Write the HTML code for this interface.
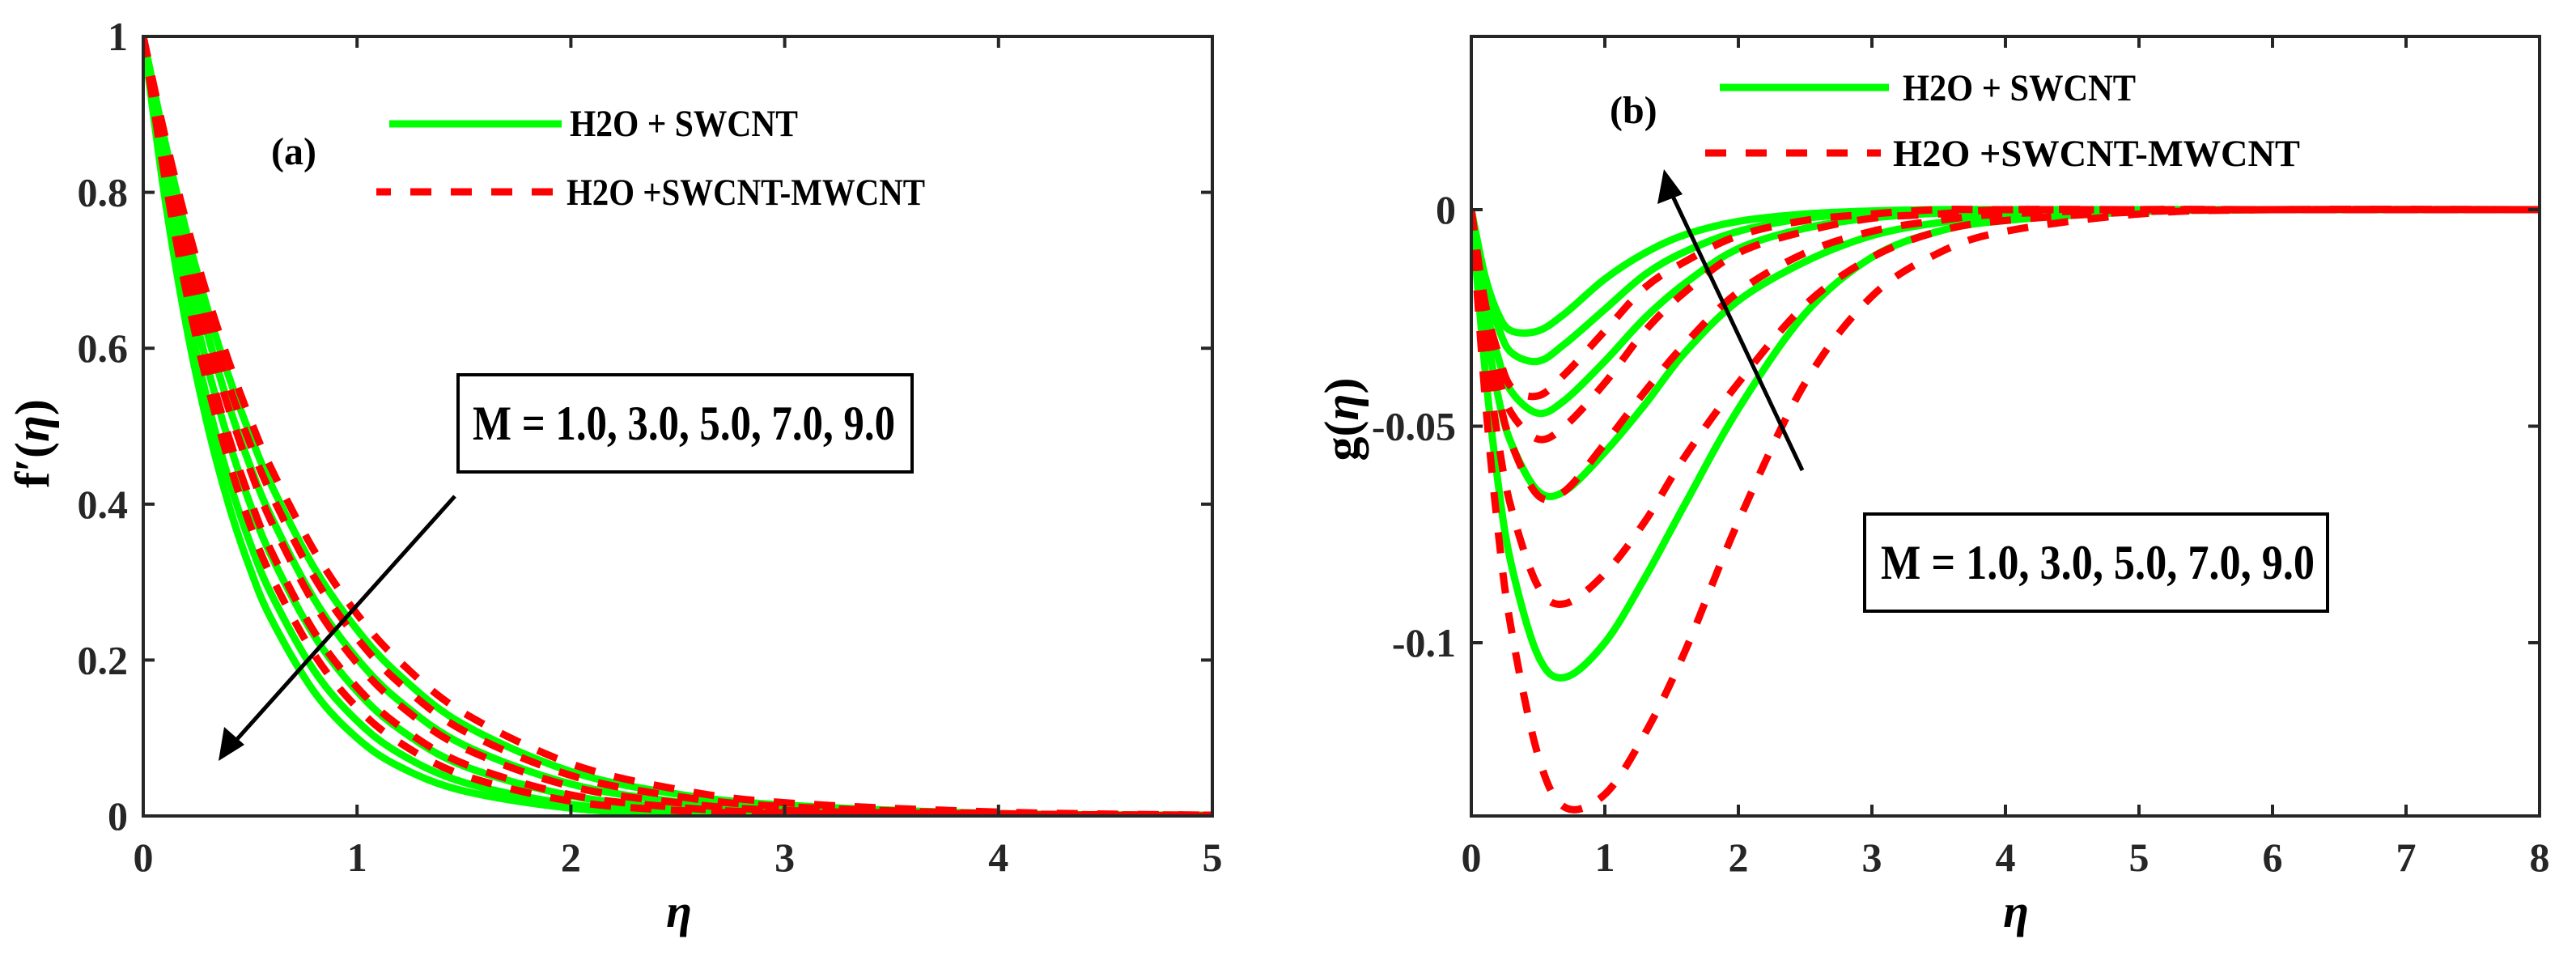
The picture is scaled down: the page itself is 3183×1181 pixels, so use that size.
<!DOCTYPE html>
<html><head><meta charset="utf-8"><style>
html,body{margin:0;padding:0;background:#fff}
svg{display:block}
text{font-family:"Liberation Serif",serif;font-weight:bold;fill:#000}
.tk{fill:#262626;font-size:50px}
</style></head><body>
<svg id="fig" width="3183" height="1181" viewBox="0 0 3183 1181" xmlns="http://www.w3.org/2000/svg">
<defs>
<clipPath id="clipA"><rect x="177" y="45" width="1321" height="963"/></clipPath>
<clipPath id="clipB"><rect x="1818" y="45" width="1320" height="963"/></clipPath>
</defs>
<g id="panelA"></g>
<g id="panelB"></g>
<g id="annot" style="font-family:'Liberation Serif',serif;font-weight:bold">
<!-- panel a -->
<text x="335" y="203" font-size="48">(a)</text>
<line x1="481" y1="153" x2="694" y2="153" stroke="#00ff00" stroke-width="9"/>
<text x="704" y="168" font-size="47" textLength="282" lengthAdjust="spacingAndGlyphs">H2O + SWCNT</text>
<line x1="465" y1="237" x2="690" y2="237" stroke="#ff0000" stroke-width="9" stroke-dasharray="26 24" stroke-dashoffset="8"/>
<text x="700" y="253" font-size="47" textLength="443" lengthAdjust="spacingAndGlyphs">H2O +SWCNT-MWCNT</text>
<rect x="566" y="463" width="561" height="120" fill="#fff" stroke="#000" stroke-width="4"/>
<text x="584" y="543" font-size="60" textLength="522" lengthAdjust="spacingAndGlyphs">M = 1.0, 3.0, 5.0, 7.0, 9.0</text>
<line x1="562" y1="613" x2="285" y2="922" stroke="#000" stroke-width="5"/>
<polygon points="270,940 277,898 302,920" fill="#000"/>
<text transform="translate(60,548) rotate(-90)" text-anchor="middle" font-size="60">f′(<tspan font-style="italic">η</tspan>)</text>
<text x="839" y="1145" text-anchor="middle" font-size="58" font-style="italic">η</text>
<!-- panel b -->
<text x="1989" y="152" font-size="48">(b)</text>
<line x1="2125" y1="108" x2="2334" y2="108" stroke="#00ff00" stroke-width="9"/>
<text x="2351" y="124" font-size="47" textLength="288" lengthAdjust="spacingAndGlyphs">H2O + SWCNT</text>
<line x1="2107" y1="189" x2="2324" y2="189" stroke="#ff0000" stroke-width="9" stroke-dasharray="26 24"/>
<text x="2339" y="205" font-size="47" textLength="503" lengthAdjust="spacingAndGlyphs">H2O +SWCNT-MWCNT</text>
<rect x="2304" y="635" width="572" height="120" fill="#fff" stroke="#000" stroke-width="4"/>
<text x="2324" y="715" font-size="60" textLength="536" lengthAdjust="spacingAndGlyphs">M = 1.0, 3.0, 5.0, 7.0, 9.0</text>
<line x1="2227" y1="581" x2="2062" y2="232" stroke="#000" stroke-width="5"/>
<polygon points="2056,209 2048,252 2079,240" fill="#000"/>
<text transform="translate(1678,518) rotate(-90)" text-anchor="middle" font-size="60">g(<tspan font-style="italic">η</tspan>)</text>
<text x="2491" y="1145" text-anchor="middle" font-size="58" font-style="italic">η</text>
</g>
</svg>
<script>
// ---- Panel (a) data ----
const etaA = [0,0.1,0.2,0.3,0.4,0.5,0.6,0.8,1.0,1.2,1.5,2.0,2.5,3,4,5];
const fGreen1 = [1,.867,.751,.651,.564,.489,.424,.318,.239,.180,.117,.057,.028,.014,.003,.001];
const fGreen2 = [1,.852,.726,.619,.527,.449,.383,.278,.202,.147,.091,.041,.018,.008,.002,0];
const fGreen3 = [1,.833,.693,.577,.481,.400,.333,.231,.160,.111,.064,.026,.010,.004,.001,0];
const fGreen4 = [1,.811,.657,.533,.432,.350,.284,.186,.122,.080,.043,.015,.005,.002,0,0];
const fGreen5 = [1,.795,.631,.502,.399,.317,.252,.159,.100,.063,.032,.010,.003,.001,0,0];
const fRed1 = [1,.874,.763,.667,.583,.509,.445,.340,.259,.198,.132,.067,.034,.017,.005,.001];
const fRed2 = [1,.862,.744,.642,.553,.477,.412,.306,.228,.170,.109,.052,.025,.012,.003,.001];
const fRed3 = [1,.850,.722,.614,.522,.444,.377,.272,.196,.142,.087,.038,.017,.007,.002,0];
const fRed4 = [1,.835,.697,.582,.486,.406,.339,.236,.165,.115,.067,.027,.011,.004,.001,0];
const fRed5 = [1,.821,.674,.554,.455,.373,.307,.207,.139,.094,.052,.019,.007,.003,0,0];
const xTicksA = [0,1,2,3,4,5];
const yTicksA = [0,0.2,0.4,0.6,0.8,1];
const yTickLabelsA = ["0","0.2","0.4","0.6","0.8","1"];
// ---- Panel (b) data ----
const etaB = [0,0.1,0.2,0.3,0.5,0.7,1,1.3,1.6,2,2.5,3,3.5,4,5,6,8];
const gGreen1 = [0,-.036,-.063,-.082,-.103,-.108,-.100,-.085,-.068,-.046,-.024,-.011,-.005,-.0025,-.0005,0,0];
const gGreen2 = [0,-.025,-.043,-.054,-.065,-.065,-.056,-.045,-.033,-.021,-.012,-.006,-.003,-.0015,-.0003,0,0];
const gGreen3 = [0,-.021,-.034,-.042,-.047,-.044,-.035,-.025,-.017,-.009,-.0043,-.0019,-.0008,-.0003,0,0,0];
const gGreen4 = [0,-.017,-.027,-.033,-.035,-.031,-.023,-.015,-.0097,-.005,-.002,-.0008,-.0003,0,0,0,0];
const gGreen5 = [0,-.015,-.024,-.028,-.028,-.024,-.016,-.010,-.0058,-.0027,-.001,-.0003,0,0,0,0,0];
const gRed1 = [0,-.042,-.074,-.097,-.126,-.138,-.135,-.121,-.102,-.072,-.040,-.020,-.010,-.005,-.001,0,0];
const gRed2 = [0,-.030,-.053,-.069,-.087,-.091,-.084,-.072,-.057,-.040,-.022,-.011,-.005,-.0025,-.0005,0,0];
const gRed3 = [0,-.023,-.042,-.054,-.066,-.065,-.054,-.042,-.031,-.019,-.010,-.005,-.0025,-.001,0,0,0];
const gRed4 = [0,-.024,-.038,-.047,-.053,-.050,-.040,-.028,-.019,-.010,-.005,-.002,-.001,0,0,0,0];
const gRed5 = [0,-.021,-.033,-.041,-.043,-.038,-.028,-.018,-.012,-.006,-.0025,-.001,0,0,0,0,0];
const xTicksB = [0,1,2,3,4,5,6,7,8];
const yTicksB = [0,-0.05,-0.1];
const yTickLabelsB = ["0","-0.05","-0.1"];

const NS = "http://www.w3.org/2000/svg";
function mk(tag, attrs, parent){const e=document.createElementNS(NS,tag);for(const k in attrs)e.setAttribute(k,attrs[k]);parent.appendChild(e);return e;}
function pathD(xs,ys,sx,sy){
  const p=xs.map((x,i)=>[sx(x),sy(ys[i])]);
  let d="M"+p[0][0]+","+p[0][1];
  for(let i=0;i<p.length-1;i++){
    const p0=p[Math.max(0,i-1)],p1=p[i],p2=p[i+1],p3=p[Math.min(p.length-1,i+2)];
    const c1=[p1[0]+(p2[0]-p0[0])/6,p1[1]+(p2[1]-p0[1])/6];
    const c2=[p2[0]-(p3[0]-p1[0])/6,p2[1]-(p3[1]-p1[1])/6];
    d+=" C"+c1[0]+","+c1[1]+" "+c2[0]+","+c2[1]+" "+p2[0]+","+p2[1];
  }
  return d;
}

function panel(g, cfg){
  const {x0,x1,y0,y1,xmin,xmax,ymin,ymax,clip}=cfg;
  const sx=v=>x0+(v-xmin)/(xmax-xmin)*(x1-x0);
  const sy=v=>y1-(v-ymin)/(ymax-ymin)*(y1-y0);
  const cg=mk("g",{"clip-path":"url(#"+clip+")"},g);
  
  
  cfg.green.forEach((ys,i)=>{
    const p=mk("path",{d:pathD(cfg.eta,ys,sx,sy),fill:"none",stroke:"#00ff00","stroke-width":9,"stroke-linejoin":"round"},cg);
    
    
  });
  cfg.red.forEach((ys,i)=>{
    const p=mk("path",{d:pathD(cfg.eta,ys,sx,sy),fill:"none",stroke:"#ff0000","stroke-width":9,"stroke-dasharray":"26 24"},cg);
    
    
  });
  const box=mk("rect",{x:x0,y:y0,width:x1-x0,height:y1-y0,fill:"none",stroke:"#262626","stroke-width":4},g);
  
  
  cfg.xt.forEach(v=>{
    const X=sx(v);
    mk("line",{x1:X,y1:y1,x2:X,y2:y1-14,stroke:"#262626","stroke-width":4},g);
    mk("line",{x1:X,y1:y0,x2:X,y2:y0+14,stroke:"#262626","stroke-width":4},g);
    const t=mk("text",{x:X,y:1076,"text-anchor":"middle",class:"tk"},g);
    t.textContent=String(v);
    
    
  });
  cfg.yt.forEach((v,i)=>{
    const Y=sy(v);
    mk("line",{x1:x0,y1:Y,x2:x0+14,y2:Y,stroke:"#262626","stroke-width":4},g);
    mk("line",{x1:x1,y1:Y,x2:x1-14,y2:Y,stroke:"#262626","stroke-width":4},g);
    const t=mk("text",{x:x0-19,y:Y+17,"text-anchor":"end",class:"tk"},g);
    t.textContent=cfg.ytl[i];
    
    
  });
}

const A=document.getElementById("panelA"), B=document.getElementById("panelB");
panel(A,{x0:177,x1:1498,y0:45,y1:1008,xmin:0,xmax:5,ymin:0,ymax:1,clip:"clipA",eta:etaA,
  green:[fGreen1,fGreen2,fGreen3,fGreen4,fGreen5],red:[fRed1,fRed2,fRed3,fRed4,fRed5],xt:xTicksA,yt:yTicksA,ytl:yTickLabelsA});
panel(B,{x0:1818,x1:3138,y0:45,y1:1008,xmin:0,xmax:8,ymin:-0.14,ymax:0.04,clip:"clipB",eta:etaB,
  green:[gGreen1,gGreen2,gGreen3,gGreen4,gGreen5],red:[gRed1,gRed2,gRed3,gRed4,gRed5],xt:xTicksB,yt:yTicksB,ytl:yTickLabelsB});
</script>
</body></html>
